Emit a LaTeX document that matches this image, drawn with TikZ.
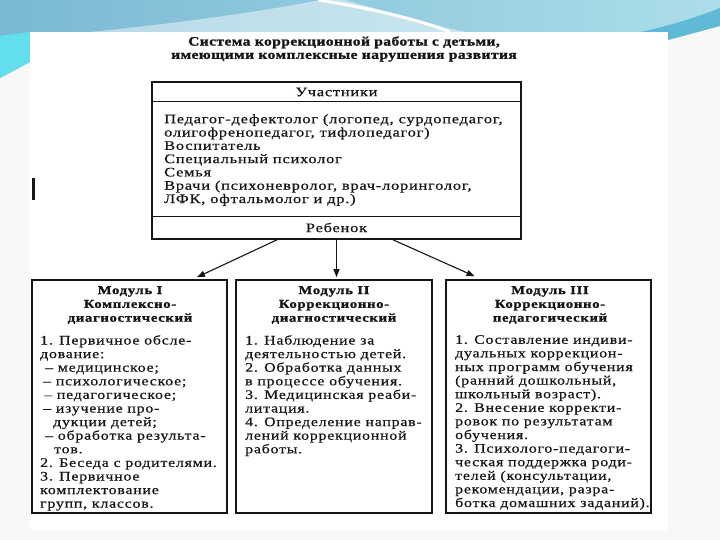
\documentclass[tikz,border=0pt]{standalone}
\usepackage{fontspec}
\setmainfont{Liberation Serif}[FakeStretch=1.22,LetterSpace=6,UprightFeatures={FakeBold=0.6},BoldFeatures={FakeBold=1.4}]
\usetikzlibrary{calc,arrows.meta}
\definecolor{bgc}{RGB}{248,248,248}
\definecolor{topL}{RGB}{122,184,212}
\definecolor{topR}{RGB}{172,222,233}
\definecolor{cyanL}{RGB}{98,222,236}
\definecolor{bandR}{RGB}{96,186,214}
\definecolor{ink}{RGB}{22,22,22}
\tikzset{
  frame/.style={draw=ink,line width=1.6pt,inner sep=0pt},
  txt/.style={text=ink,inner sep=0pt,align=left,font=\fontsize{13}{13.3}\selectfont\addfontfeature{FakeStretch=1.26}},
  modtxt/.style={text=ink,inner sep=0pt,align=left,font=\fontsize{13}{13.6}\selectfont},
  head/.style={text=ink,inner sep=0pt,align=center,font=\fontsize{12}{13.8}\selectfont\bfseries},
  arr/.style={draw=ink,line width=1.1pt,-{Triangle[length=8pt,width=6pt]}}
}
\begin{document}
\begin{tikzpicture}[x=1pt,y=-1pt]
\useasboundingbox (0,0) rectangle (720,540);
% background
\fill[bgc] (0,0) rectangle (720,540);
\shade[left color=topL,right color=topR] (0,0) -- (720,0) -- (720,26) -- (668,40) -- (668,32) -- (30,32) -- (30,62) -- (0,78) -- cycle;
\fill[cyanL] (0,36) -- (30,32) -- (30,62) -- (0,78) -- cycle;
\fill[bandR] (640,32) .. controls (670,26) and (700,16) .. (720,8) -- (720,26) -- (668,40) -- (668,32) -- cycle;
\fill[white,opacity=0.45] (90,32) .. controls (190,22) and (270,10) .. (320,0) -- (345,0) .. controls (395,14) and (430,24) .. (465,32) -- cycle;
\draw[white,line width=3pt] (318,0) .. controls (370,8) and (420,20) .. (450,32);
\fill[white] (30,32) rectangle (668,530);
\fill[ink] (32,178) rectangle (35,200);
% title
\node[head,font=\fontsize{12.8}{13.3}\selectfont\bfseries\addfontfeature{LetterSpace=3}] (title) at (344,49) {Система коррекционной работы с детьми,\\имеющими комплексные нарушения развития};
% top box
\node[frame,minimum width=369pt,minimum height=157pt] (top) at (336.5,160.5) {};
\node[txt] (uch) at (336.5,92) {Участники};
\draw[ink,line width=1.3pt] ($(top.north west)+(0,20)$) -- ($(top.north east)+(0,20)$);
\node[txt,anchor=north west] (members) at (164,114) {Педагог-дефектолог (логопед, сурдопедагог,\\олигофренопедагог, тифлопедагог)\\Воспитатель\\Специальный психолог\\Семья\\Врачи (психоневролог, врач-лоринголог,\\ЛФК, офтальмолог и др.)};
\draw[ink,line width=1.3pt] ($(top.south west)+(0,-23)$) -- ($(top.south east)+(0,-23)$);
\node[txt] (child) at (336.5,227.5) {Ребенок};
% modules
\node[frame,minimum width=195pt,minimum height=233pt] (m1) at (129.5,396.5) {};
\node[frame,minimum width=196pt,minimum height=233pt] (m2) at (334,396.5) {};
\node[frame,minimum width=205pt,minimum height=233pt] (m3) at (548.5,396.5) {};
\node[head,anchor=north] (h1) at (130,286) {Модуль I\\Комплексно-\\диагностический};
\node[head,anchor=north] (h2) at (334,286) {Модуль II\\Коррекционно-\\диагностический};
\node[head,anchor=north] (h3) at (550,286) {Модуль III\\Коррекционно-\\педагогический};
\node[modtxt,anchor=north west] (t1) at (40,335) {1. Первичное обсле-\\дование:\\\hspace*{5pt}– медицинское;\\\hspace*{3pt}– психологическое;\\\hspace*{4pt}– педагогическое;\\\hspace*{3pt}– изучение про-\\\hspace*{13pt}дукции детей;\\\hspace*{5pt}– обработка результа-\\\hspace*{14pt}тов.\\2. Беседа с родителями.\\3. Первичное\\комплектование\\групп, классов.};
\node[modtxt,anchor=north west] (t2) at (245,335) {1. Наблюдение за\\деятельностью детей.\\2. Обработка данных\\в процессе обучения.\\3. Медицинская реаби-\\литация.\\4. Определение направ-\\лений коррекционной\\работы.};
\node[modtxt,anchor=north west] (t3) at (455,335) {1. Составление индиви-\\дуальных коррекцион-\\ных программ обучения\\(ранний дошкольный,\\школьный возраст).\\2. Внесение корректи-\\ровок по результатам\\обучения.\\3. Психолого-педагоги-\\ческая поддержка роди-\\телей (консультации,\\рекомендации, разра-\\ботка домашних заданий).};
% arrows
\draw[arr] ($(top.south)+(-59.5,0)$) -- ($(m1.north)+(67.5,-2)$);
\draw[arr] (top.south) -- ($(top.south |- m2.north)+(0,-2)$);
\draw[arr] ($(top.south)+(56.5,0)$) -- ($(m3.north)+(-74,-3)$);
\end{tikzpicture}
\end{document}
